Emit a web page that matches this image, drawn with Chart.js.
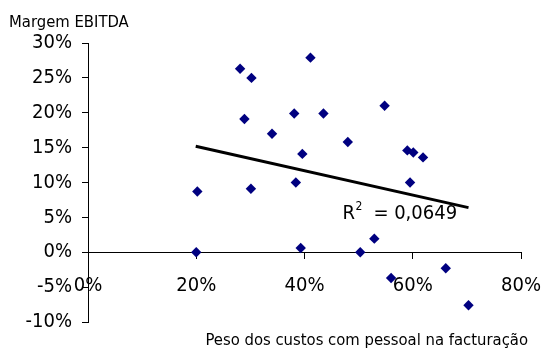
<!DOCTYPE html>
<html>
<head>
<meta charset="utf-8">
<script src="https://cdn.jsdelivr.net/npm/chart.js@4.4.1/dist/chart.umd.min.js"></script>
<style>
  html, body { margin: 0; padding: 0; background: #fff; }
  #wrap { width: 545px; height: 349px; position: relative; }
</style>
</head>
<body>
<div id="wrap"><canvas id="chart"></canvas></div>
<script>
// peso dos custos com pessoal na facturação (%) e margem EBITDA (%) por empresa
const pesoPessoal = [20.0, 20.2, 28.1, 28.9, 30.1, 30.2, 34.0, 38.1, 38.4, 39.3, 39.6, 41.1,
                     43.5, 48.0, 50.3, 52.9, 54.8, 56.0, 59.0, 59.5, 60.1, 61.9, 66.1, 70.3];
const margemEbitda = [0.0, 8.7, 26.3, 19.1, 9.1, 25.0, 17.0, 19.9, 10.0, 0.6, 14.1, 27.9,
                      19.9, 15.8, 0.0, 1.95, 21.0, -3.7, 14.6, 10.0, 14.3, 13.6, -2.3, -7.6];

// linha de tendência linear (extremos)
const trendX = [19.9, 70.3];
const trendY = [15.2, 6.4];
const rSquared = '0,0649';

const xTicks = [0, 20, 40, 60, 80];
const yTicks = [-10, -5, 0, 5, 10, 15, 20, 25, 30];

const FONT = "'DejaVu Sans Condensed', 'DejaVu Sans', sans-serif";

const pontos = pesoPessoal.map((v, i) => ({ x: v, y: margemEbitda[i] }));
const tendencia = trendX.map((v, i) => ({ x: v, y: trendY[i] }));

const textos = {
  id: 'textos',
  afterDraw(chart) {
    const { ctx, scales: { x, y } } = chart;
    ctx.save();
    ctx.fillStyle = '#000';
    ctx.textBaseline = 'alphabetic';

    ctx.font = '16.5px ' + FONT;
    ctx.textAlign = 'left';
    ctx.fillText('Margem EBITDA', 9, 27);
    ctx.textAlign = 'right';
    ctx.fillText('Peso dos custos com pessoal na facturação', 528, 345);

    // R² junto à linha de tendência
    ctx.textAlign = 'left';
    const rx = x.getPixelForValue(47.0);
    const ry = y.getPixelForValue(4.8);
    ctx.font = '20px ' + FONT;
    ctx.fillText('R', rx, ry);
    const rw = ctx.measureText('R').width;
    ctx.font = '12px ' + FONT;
    ctx.fillText('2', rx + rw + 0.5, ry - 9);
    ctx.font = '20px ' + FONT;
    ctx.fillText('= ' + rSquared, rx + 31, ry);
    ctx.restore();
  }
};

new Chart(document.getElementById('chart'), {
  type: 'scatter',
  data: {
    datasets: [
      {
        label: 'Margem EBITDA',
        data: pontos,
        pointStyle: 'rectRot',
        pointRadius: 5.2,
        pointBorderWidth: 0,
        backgroundColor: '#000080',
        borderColor: '#000080'
      },
      {
        label: 'Tendência',
        data: tendencia,
        showLine: true,
        borderColor: '#000',
        borderWidth: 3,
        pointRadius: 0,
        fill: false
      }
    ]
  },
  options: {
    responsive: true,
    maintainAspectRatio: false,
    animation: false,
    layout: { padding: { top: 43, right: 24, bottom: 27, left: 0 } },
    plugins: {
      legend: { display: false },
      tooltip: { enabled: false }
    },
    scales: {
      x: {
        type: 'linear',
        position: { y: 0 },
        min: xTicks[0],
        max: xTicks[xTicks.length - 1],
        afterFit(scale) { scale.paddingLeft = 0; scale.paddingRight = 0; },
        ticks: {
          stepSize: xTicks[1] - xTicks[0],
          callback: v => v + '%',
          color: '#000',
          padding: 16,
          maxRotation: 0,
          font: { family: FONT, size: 20 }
        },
        grid: { drawOnChartArea: false, drawTicks: true, tickLength: 6, color: '#000' },
        border: { display: true, color: '#000', width: 1 }
      },
      y: {
        type: 'linear',
        position: 'left',
        min: yTicks[0],
        max: yTicks[yTicks.length - 1],
        afterFit(scale) { scale.width = 88; },
        ticks: {
          stepSize: yTicks[1] - yTicks[0],
          callback: v => v + '%',
          color: '#000',
          padding: 10,
          font: { family: FONT, size: 20 }
        },
        grid: { drawOnChartArea: false, drawTicks: true, tickLength: 6, color: '#000' },
        border: { display: true, color: '#000', width: 1 }
      }
    }
  },
  plugins: [textos]
});
</script>
</body>
</html>
